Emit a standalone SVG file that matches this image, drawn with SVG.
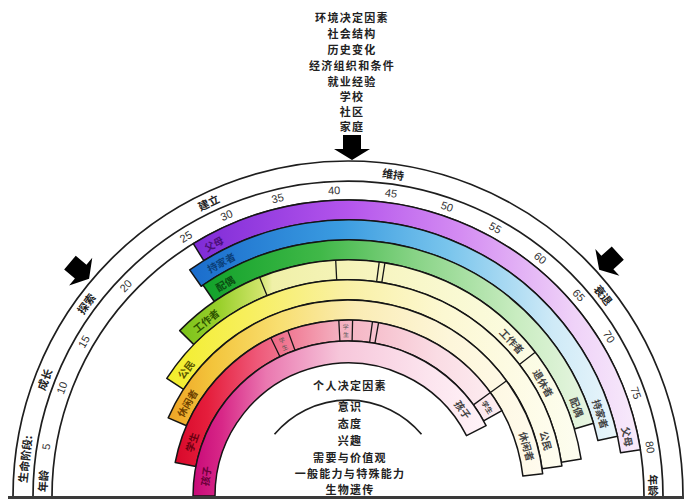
<svg xmlns="http://www.w3.org/2000/svg" width="684" height="503" viewBox="0 0 684 503">
<style>
.ring{fill:none;stroke:#1e1e1e;stroke-width:1.7}
.band{stroke:#151515;stroke-width:1.5;stroke-linejoin:round}
.dv{stroke:#151515;stroke-width:1.3;fill:none}
.cjk{font-family:"Noto Sans CJK SC","Liberation Sans",sans-serif;font-weight:700;fill:#222;text-anchor:middle;dominant-baseline:central}
.blk{font-size:11px;letter-spacing:1.3px}
.stg{font-size:11px}
.lb{font-size:10px}
.tiny{font-size:6px;font-weight:400}
.age{font-family:"Liberation Sans",sans-serif;font-size:11px;fill:#333;text-anchor:middle;dominant-baseline:central}
.arrow{fill:#000}
</style>
<defs>
<linearGradient id="gP" gradientUnits="userSpaceOnUse" x1="190" y1="0" x2="641" y2="0">
<stop offset="0" stop-color="#7d2ad6"/><stop offset="0.35" stop-color="#b455ec"/><stop offset="0.6" stop-color="#d48cf2"/><stop offset="0.85" stop-color="#efd2f8"/><stop offset="1" stop-color="#f8ecfb"/>
</linearGradient>
<linearGradient id="gB" gradientUnits="userSpaceOnUse" x1="189" y1="0" x2="618" y2="0">
<stop offset="0" stop-color="#1a6ccc"/><stop offset="0.35" stop-color="#3a9be0"/><stop offset="0.6" stop-color="#78c4ec"/><stop offset="0.85" stop-color="#cfeaf7"/><stop offset="1" stop-color="#eaf6fb"/>
</linearGradient>
<linearGradient id="gG" gradientUnits="userSpaceOnUse" x1="203" y1="0" x2="594" y2="0">
<stop offset="0" stop-color="#12a22a"/><stop offset="0.3" stop-color="#40b848"/><stop offset="0.55" stop-color="#8ad488"/><stop offset="0.8" stop-color="#c8ecc0"/><stop offset="1" stop-color="#eaf6e4"/>
</linearGradient>
<linearGradient id="gW" gradientUnits="userSpaceOnUse" x1="180" y1="0" x2="581" y2="0">
<stop offset="0" stop-color="#7ac21a"/><stop offset="0.1" stop-color="#9ad02c"/><stop offset="0.2" stop-color="#cfe46a"/><stop offset="0.23" stop-color="#f0f0a8"/><stop offset="0.45" stop-color="#f6f4bc"/><stop offset="0.75" stop-color="#fafad8"/><stop offset="1" stop-color="#fdfdf0"/>
</linearGradient>
<linearGradient id="gC" gradientUnits="userSpaceOnUse" x1="167" y1="0" x2="562" y2="0">
<stop offset="0" stop-color="#f2ee2a"/><stop offset="0.2" stop-color="#f7ef5c"/><stop offset="0.45" stop-color="#f9f0a4"/><stop offset="0.7" stop-color="#fcf8d2"/><stop offset="1" stop-color="#fefdf0"/>
</linearGradient>
<linearGradient id="gL" gradientUnits="userSpaceOnUse" x1="168" y1="0" x2="543" y2="0">
<stop offset="0" stop-color="#eea426"/><stop offset="0.12" stop-color="#f3c53c"/><stop offset="0.3" stop-color="#f8df72"/><stop offset="0.5" stop-color="#faecb4"/><stop offset="0.75" stop-color="#fdf6da"/><stop offset="1" stop-color="#fffbee"/>
</linearGradient>
<linearGradient id="gS" gradientUnits="userSpaceOnUse" x1="175" y1="0" x2="502" y2="0">
<stop offset="0" stop-color="#d8082a"/><stop offset="0.1" stop-color="#e51e3c"/><stop offset="0.25" stop-color="#ee5878"/><stop offset="0.5" stop-color="#f4b0c0"/><stop offset="0.8" stop-color="#fadce4"/><stop offset="1" stop-color="#fdeef2"/>
</linearGradient>
<linearGradient id="gK" gradientUnits="userSpaceOnUse" x1="193" y1="0" x2="486" y2="0">
<stop offset="0" stop-color="#c80a78"/><stop offset="0.1" stop-color="#d82888"/><stop offset="0.25" stop-color="#ea78b0"/><stop offset="0.5" stop-color="#f6c6da"/><stop offset="0.8" stop-color="#fce4ee"/><stop offset="1" stop-color="#fff3f8"/>
</linearGradient>
<path id="arr" d="M -9 -25 L 9 -25 L 9 -11 L 18 -11 L 0 0 L -18 -11 L -9 -11 Z"/>
</defs>
<rect width="684" height="503" fill="#fff"/>

<g id="environment-factors" class="cjk blk">
<text x="352" y="17">环境决定因素</text>
<text x="352" y="33">社会结构</text>
<text x="352" y="49">历史变化</text>
<text x="352" y="65">经济组织和条件</text>
<text x="352" y="81">就业经验</text>
<text x="352" y="96">学校</text>
<text x="352" y="111">社区</text>
<text x="352" y="126">家庭</text>
</g>

<g id="outer-rings">
<path class="ring" d="M 13 496 A 335 335 0 0 1 683 496"/>
<path class="ring" d="M 33 496 A 315 315 0 0 1 663 496"/>
<path class="ring" d="M 52 496 A 296 296 0 0 1 644 496"/>
</g>

<g id="life-stages" class="cjk stg">
<text transform="translate(24.5,459) rotate(-83.7)">生命阶段:</text>
<text transform="translate(44.1,379.3) rotate(-69)">成长</text>
<text transform="translate(85.7,303.3) rotate(-53.7)">探索</text>
<text transform="translate(208.4,202) rotate(-25.4)">建立</text>
<text transform="translate(393.3,173.7) rotate(8)">维持</text>
<text transform="translate(603.8,294.7) rotate(51.8)">衰退</text>
</g>

<g id="ages">
<text class="cjk stg" transform="translate(42.4,481.1) rotate(-87.2)">年龄</text>
<text class="age" transform="translate(46,446.6) rotate(-80.7)">5</text>
<text class="age" transform="translate(61.8,387.8) rotate(-69.3)">10</text>
<text class="age" transform="translate(83.8,341.6) rotate(-59.7)">15</text>
<text class="age" transform="translate(125.7,285.7) rotate(-46.6)">20</text>
<text class="age" transform="translate(185.8,236.5) rotate(-32)">25</text>
<text class="age" transform="translate(226.5,215.2) rotate(-23.4)">30</text>
<text class="age" transform="translate(277.6,198.2) rotate(-13.3)">35</text>
<text class="age" transform="translate(334.1,190.3) rotate(-2.6)">40</text>
<text class="age" transform="translate(391.1,193.1) rotate(8.1)">45</text>
<text class="age" transform="translate(447.1,206.5) rotate(18.9)">50</text>
<text class="age" transform="translate(495.4,227.8) rotate(28.8)">55</text>
<text class="age" transform="translate(540.2,257.9) rotate(38.9)">60</text>
<text class="age" transform="translate(578.9,295.2) rotate(49)">65</text>
<text class="age" transform="translate(609.2,336.6) rotate(58.6)">70</text>
<text class="age" transform="translate(636.1,392.8) rotate(70.3)">75</text>
<text class="age" transform="translate(650.1,447.1) rotate(80.8)">80</text>
<text class="cjk stg" transform="translate(653.8,485.3) rotate(88)">年龄</text>
</g>

<g id="band-parent">
<path class="band" fill="url(#gP)" d="M 193.3 243.6 A 296 296 0 0 1 640.4 449.7 L 620.6 452.8 A 276 276 0 0 0 203.8 260.7 Z"/>
<text class="cjk lb" style="fill:#4a0f78" transform="translate(213.7,243.5) rotate(-28)">父母</text>
<text class="cjk lb" style="fill:#444" transform="translate(627.7,436.5) rotate(78)">父母</text>
</g>

<g id="band-homemaker">
<path class="band" fill="url(#gB)" d="M 189.7 269.9 A 276 276 0 0 1 617.5 436.3 L 597.9 440.6 A 256 256 0 0 0 201.2 286.3 Z"/>
<text class="cjk lb" style="fill:#0b3f78" transform="translate(221.1,262.2) rotate(-28.5)">持家者</text>
<text class="cjk lb" style="fill:#444" transform="translate(601,413.8) rotate(72)">持家者</text>
</g>

<g id="band-spouse">
<path class="band" fill="url(#gG)" d="M 203 285 A 256 256 0 0 1 593.5 423.3 L 574.3 429 A 236 236 0 0 0 214.3 301.5 Z"/>
<text class="cjk lb" style="fill:#0a4d12" transform="translate(225,283) rotate(-30)">配偶</text>
<text class="cjk lb" style="fill:#444" transform="translate(577.3,407) rotate(68.8)">配偶</text>
</g>

<g id="band-worker">
<path class="band" fill="url(#gW)" d="M 179.7 330.6 A 236 236 0 0 1 581.1 459.1 L 561.3 462.2 A 216 216 0 0 0 193.9 344.6 Z"/>
<path class="dv" d="M 259.6 277.2 L 267.1 295.7 M 335.7 260.3 L 336.7 280.3 M 379.2 262.1 L 376.6 281.9 M 384.9 262.9 L 381.8 282.7 M 535.2 352.3 L 519.4 364.5"/>
<text class="cjk lb" style="fill:#2d5400" transform="translate(205.8,320.4) rotate(-39)">工作者</text>
<text class="cjk lb" style="fill:#444" transform="translate(512.2,340.7) rotate(46.6)">工作者</text>
<text class="cjk lb" style="fill:#444" transform="translate(543.7,383) rotate(60)">退休者</text>
</g>

<g id="band-citizen">
<path class="band" fill="url(#gC)" d="M 166.8 378.4 A 216 216 0 0 1 561.9 465.9 L 542.1 468.7 A 196 196 0 0 0 183.6 389.3 Z"/>
<text class="cjk lb" style="fill:#5a5600" transform="translate(185.7,369.2) rotate(-52)">公民</text>
<text class="cjk lb" style="fill:#444" transform="translate(546.4,440.6) rotate(74.4)">公民</text>
</g>

<g id="band-leisurite">
<path class="band" fill="url(#gL)" d="M 168.2 417.9 A 196 196 0 0 1 542.7 473.8 L 522.9 476.1 A 176 176 0 0 0 186.6 425.8 Z"/>
<path class="dv" d="M 506.6 380.8 L 490.4 392.5"/>
<text class="cjk lb" style="fill:#6e4200" transform="translate(186.9,403) rotate(-60)">休闲者</text>
<text class="cjk lb" style="fill:#444" transform="translate(527.2,446.3) rotate(74.5)">休闲者</text>
</g>

<g id="band-student">
<path class="band" fill="url(#gS)" d="M 175.2 462.4 A 176 176 0 0 1 501.9 410.7 L 483.6 420.9 A 155 155 0 0 0 195.9 466.4 Z"/>
<path class="dv" d="M 270.8 337.8 L 280 356.7 M 287.8 330.6 L 295 350.3 M 338.8 320.2 L 339.9 341.2 M 352.6 320.1 L 352.1 341 M 372.5 321.7 L 369.6 342.5 M 378.6 322.7 L 374.9 343.4 M 490.4 392.5 L 473.4 404.9"/>
<text class="cjk lb" style="fill:#6a0010" transform="translate(191.5,442.1) rotate(-71)">学生</text>
<g transform="translate(283.3,343.6) rotate(-23)" class="cjk tiny" style="fill:#555"><text y="-4">学</text><text y="4">生</text></g>
<g transform="translate(345.8,330.5) rotate(-0.8)" class="cjk tiny" style="fill:#555"><text y="-4">学</text><text y="4">生</text></g>
<text class="cjk" style="fill:#444;font-size:7px" transform="translate(487.6,407.1) rotate(57.5)">学生</text>
</g>

<g id="band-child">
<path class="band" fill="url(#gK)" d="M 193 496 A 155 155 0 0 1 486.1 425.6 L 466.5 435.6 A 133 133 0 0 0 215 496 Z"/>
<text class="cjk lb" style="fill:#6a0038" transform="translate(205.4,476) rotate(-82)">孩子</text>
<text class="cjk lb" style="fill:#444" transform="translate(463,409.3) rotate(53)">孩子</text>
</g>

<g id="personal-factors">
<path class="ring" d="M 274.5 434.3 A 96 96 0 0 1 421.5 434.3"/>
<g class="cjk blk">
<text x="350" y="385">个人决定因素</text>
<text x="350" y="406">意识</text>
<text x="350" y="423">态度</text>
<text x="350" y="440">兴趣</text>
<text x="350" y="457">需要与价值观</text>
<text x="350" y="473">一般能力与特殊能力</text>
<text x="350" y="489">生物遗传</text>
</g>
</g>

<g id="connectors">
<use href="#arr" class="arrow" transform="translate(352,160)"/>
<use href="#arr" class="arrow" transform="translate(89.1,278.7) rotate(-50)"/>
<use href="#arr" class="arrow" transform="translate(599.2,269.8) rotate(48)"/>
</g>

<line id="baseline" x1="8" y1="497.5" x2="684" y2="497.5" stroke="#3a3a3a" stroke-width="3"/>
</svg>
